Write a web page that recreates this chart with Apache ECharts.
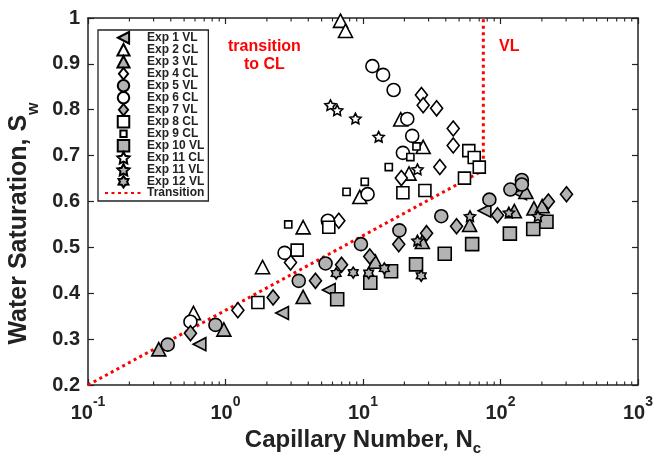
<!DOCTYPE html>
<html><head><meta charset="utf-8">
<script src="https://cdn.jsdelivr.net/npm/echarts@6/dist/echarts.min.js"></script>
<style>html,body{margin:0;padding:0;background:#fff}#c{width:653px;height:453px}</style>
</head><body><div id="c"></div>
<script>
// ---- data (x = capillary number, y = water saturation) ----
const seriesNames = ['Exp 1 VL','Exp 2 CL','Exp 3 VL','Exp 4 CL','Exp 5 VL','Exp 6 CL','Exp 7 VL','Exp 8 CL','Exp 9 CL','Exp 10 VL','Exp 11 CL','Exp 11 VL','Exp 12 VL'];
const exp1VL = [[0.647,0.289],[2.58,0.357],[5.64,0.407],[76.5,0.580],[139,0.618]];
const exp2CL = [[0.585,0.357],[1.86,0.457],[3.67,0.544],[9.48,0.610],[21.6,0.661],[27.4,0.719],[18.8,0.779],[6.86,0.994],[7.46,0.972]];
const exp3VL = [[0.327,0.278],[0.973,0.321],[3.67,0.392],[12.3,0.469],[27.0,0.512],[59.6,0.549],[126,0.579],[153,0.621],[175,0.585],[201,0.590]];
const exp4CL = [[1.23,0.363],[2.97,0.467],[6.67,0.558],[19.0,0.651],[36.2,0.675],[45.3,0.759],[45.3,0.722],[26.6,0.832],[27.4,0.810],[34.3,0.803]];
const exp5VL = [[0.380,0.288],[0.845,0.331],[3.41,0.427],[5.34,0.465],[9.66,0.507],[18.4,0.537],[37.1,0.568],[83.0,0.604],[118,0.626],[143,0.647],[143,0.637]];
const exp6CL = [[0.556,0.338],[2.69,0.488],[5.55,0.558],[10.8,0.616],[19.5,0.706],[22.8,0.743],[21.0,0.780],[11.7,0.895],[14.0,0.876],[16.7,0.843]];
const exp7VL = [[0.556,0.313],[2.22,0.391],[4.51,0.427],[6.98,0.462],[11.2,0.480],[18.2,0.507],[29.0,0.531],[47.9,0.546],[95.1,0.570],[223,0.600],[302,0.616]];
const exp8CL = [[1.72,0.380],[3.32,0.494],[5.64,0.544],[19.5,0.619],[28.2,0.624],[54.7,0.651],[58.8,0.711],[64.4,0.696],[70.1,0.675]];
const exp9CL = [[2.86,0.550],[7.59,0.621],[10.3,0.643],[15.4,0.675],[22.1,0.697],[24.5,0.720]];
const exp10VL = [[6.49,0.387],[11.3,0.423],[16.0,0.448],[24.3,0.463],[39.3,0.486],[62.2,0.507],[117,0.530],[173,0.540],[216,0.556]];
const exp11CL = [[5.80,0.810],[6.49,0.799],[8.81,0.781],[13.0,0.741],[24.9,0.670]];
const exp11VL = [[24.9,0.515],[60.0,0.568],[115,0.576],[187,0.568]];
const exp12VL = [[6.38,0.443],[8.49,0.445],[11.0,0.444],[14.3,0.454],[26.5,0.438]];
const transitionLine = [[0.1,0.2],[75,0.668],[75,1]];
const minorTicks = [0.2,0.3,0.4,0.5,0.6,0.7,0.8,0.9,2,3,4,5,6,7,8,9,20,30,40,50,60,70,80,90,200,300,400,500,600,700,800,900];

// ---- styling ----
const FONT = '"Liberation Sans", Arial, sans-serif';
const GRAY = '#b3b3b3';
const RED = '#ff0000';
function starPath(n, rIn){
  const pts=[];
  for(let i=0;i<2*n;i++){
    const r = i%2 ? rIn : 1;
    const a = -Math.PI/2 + i*Math.PI/n;
    pts.push((r*Math.cos(a)).toFixed(3)+' '+(r*Math.sin(a)).toFixed(3));
  }
  return 'path://M'+pts.join(' L')+' Z';
}
// all symbols as paths so that legend icons keep their aspect ratio
const SYM = {
  pent: starPath(5,0.5),
  hex: starPath(6,0.62),
  circle: 'path://M1 0 A1 1 0 1 1 -1 0 A1 1 0 1 1 1 0 Z',
  tri: 'path://M0 -1 L1 0.9 L-1 0.9 Z',
  left: 'path://M-0.95 0 L1 -1 L1 1 Z',
  diamond: 'path://M0 -1 L0.8 0 L0 1 L-0.8 0 Z',
  square: 'path://M-1 -1 L1 -1 L1 1 L-1 1 Z',
  small: 'path://M-1 -1 M1 1 M-0.55 -0.55 L0.55 -0.55 L0.55 0.55 L-0.55 0.55 Z'
};

function sc(name, data, symbol, size, fill){
  return {
    type:'scatter', name, data, symbol, symbolSize:size, symbolKeepAspect:true,
    itemStyle:{color:fill, borderColor:'#000', borderWidth:1.6, opacity:1},
    emphasis:{disabled:true}, z:3
  };
}

const chart = echarts.init(document.getElementById('c'), null, {renderer:'canvas'});
const axisCommon = {
  axisLine:{show:true, onZero:false, lineStyle:{color:'#222', width:1.5}},
  axisTick:{show:true, inside:true, length:6, lineStyle:{color:'#222', width:1.2}},
  splitLine:{show:false}
};
const legendData = seriesNames.map(n => ({name:n}));
legendData.push({name:'Transition', itemStyle:{opacity:0}});
const option = {
  animation:false,
  backgroundColor:'#fff',
  grid:{left:88, right:15, top:18, bottom:68, containLabel:false, outerBoundsMode:'none'},
  xAxis:[
    Object.assign({type:'log', logBase:10, min:0.1, max:1000, position:'bottom',
      name:'{n|Capillary Number, N}{s|c}', nameLocation:'middle', nameGap:27,
      nameTextStyle:{rich:{n:{fontSize:24, fontWeight:'bold', fontFamily:FONT, color:'#222', lineHeight:26, verticalAlign:'top'},
                           s:{fontSize:15, fontWeight:'bold', fontFamily:FONT, color:'#222', lineHeight:28, verticalAlign:'bottom'}}},
      axisLabel:{margin:10, formatter:function(v){ const e=Math.round(Math.log10(v)); return '{b|10}{s|'+e+'}'; },
        rich:{b:{fontSize:20, fontWeight:'bold', fontFamily:FONT, color:'#222', lineHeight:28, verticalAlign:'bottom'},
              s:{fontSize:14, fontWeight:'bold', fontFamily:FONT, color:'#222', lineHeight:18, verticalAlign:'top'}}}
    }, axisCommon),
    Object.assign({type:'log', logBase:10, min:0.1, max:1000, position:'top', axisLabel:{show:false}}, axisCommon)
  ],
  yAxis:[
    Object.assign({type:'value', min:0.2, max:1, interval:0.1, position:'left',
      name:'{n|Water Saturation, S}{s|w}', nameLocation:'middle', nameGap:41, nameRotate:90,
      nameTextStyle:{padding:[0,44,0,0], rich:{n:{fontSize:25, fontWeight:'bold', fontFamily:FONT, color:'#222', lineHeight:28, verticalAlign:'top'},
                           s:{fontSize:16, fontWeight:'bold', fontFamily:FONT, color:'#222', lineHeight:35, verticalAlign:'bottom'}}},
      axisLabel:{margin:8, fontSize:20, fontWeight:'bold', fontFamily:FONT, color:'#222',
        formatter:function(v){ return Math.abs(v-1)<1e-9 ? '1' : v.toFixed(1); }}
    }, axisCommon),
    Object.assign({type:'value', min:0.2, max:1, interval:0.1, position:'right', axisLabel:{show:false}}, axisCommon)
  ],
  legend:{
    data: legendData,
    orient:'vertical', left:98, top:30,
    padding:[1,4,2,6], itemGap:-1.5, itemWidth:37, itemHeight:11.5,
    symbolKeepAspect:true,
    backgroundColor:'#fff', borderColor:'#222', borderWidth:1.3, borderRadius:0,
    textStyle:{fontSize:12, fontWeight:'bold', fontFamily:FONT, color:'#222', lineHeight:11},
    selectedMode:false
  },
  graphic:[
    {type:'text', left:228, top:38, silent:true, z:10,
     style:{text:'transition\nto CL', fill:RED, font:'bold 16px '+FONT, textAlign:'center', lineHeight:18}},
    {type:'text', left:499, top:39, silent:true, z:10,
     style:{text:'VL', fill:RED, font:'bold 16px '+FONT}}
  ],
  series:[
    {type:'line', name:'Transition', data:transitionLine, symbol:'none', showSymbol:false, z:2,
     lineStyle:{color:RED, width:3, type:[3,3.5], cap:'butt'}, itemStyle:{color:RED}, emphasis:{disabled:true}},
    sc('Exp 1 VL', exp1VL, SYM.left, 13, GRAY),
    sc('Exp 2 CL', exp2CL, SYM.tri, 14, '#fff'),
    sc('Exp 3 VL', exp3VL, SYM.tri, 14, GRAY),
    sc('Exp 4 CL', exp4CL, SYM.diamond, 15, '#fff'),
    sc('Exp 5 VL', exp5VL, SYM.circle, 13, GRAY),
    sc('Exp 6 CL', exp6CL, SYM.circle, 13, '#fff'),
    sc('Exp 7 VL', exp7VL, SYM.diamond, 15, GRAY),
    sc('Exp 8 CL', exp8CL, SYM.square, 12, '#fff'),
    sc('Exp 9 CL', exp9CL, SYM.small, 13, '#fff'),
    sc('Exp 10 VL', exp10VL, SYM.square, 13, GRAY),
    sc('Exp 11 CL', exp11CL, SYM.pent, 11, '#fff'),
    sc('Exp 11 VL', exp11VL, SYM.pent, 11, GRAY),
    sc('Exp 12 VL', exp12VL, SYM.hex, 11, GRAY),
    {type:'custom', name:'minorTicks', data:minorTicks.map(v=>[v,0.5]), xAxisIndex:0, yAxisIndex:0, silent:true, z:1,
     encode:{x:0,y:1},
     renderItem:function(params, api){
       const x = api.coord([api.value(0), 0.5])[0];
       const r = params.coordSys;
       const st = {stroke:'#222', lineWidth:1.1};
       return {type:'group', children:[
         {type:'line', shape:{x1:x, y1:r.y+r.height, x2:x, y2:r.y+r.height-3.5}, style:st},
         {type:'line', shape:{x1:x, y1:r.y, x2:x, y2:r.y+3.5}, style:st}
       ]};
     }}
  ]
};
chart.setOption(option);
</script>
</body></html>
